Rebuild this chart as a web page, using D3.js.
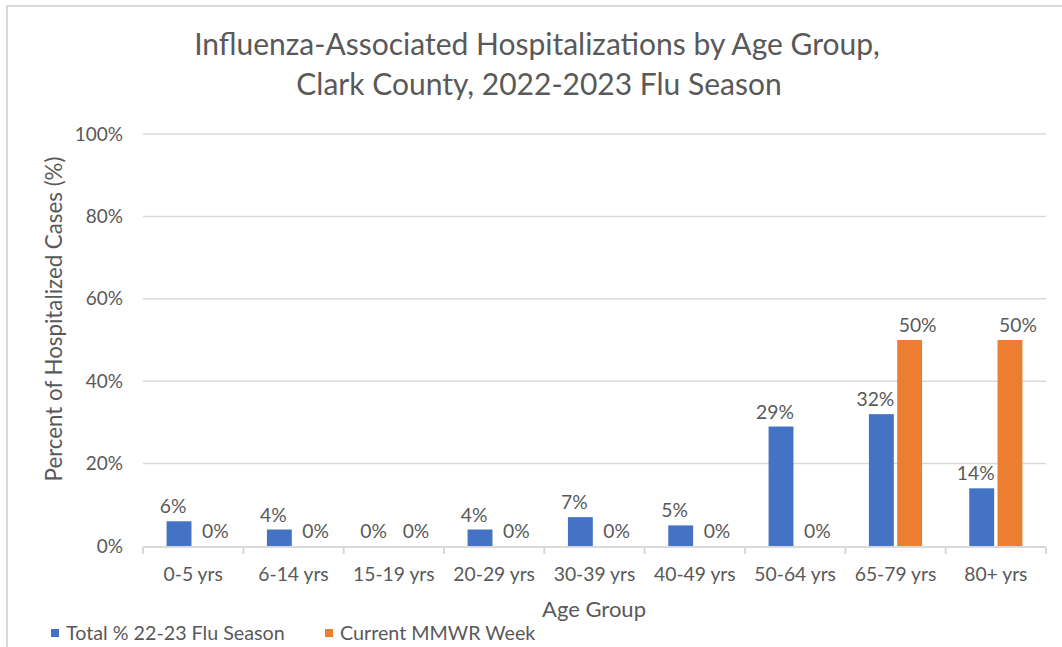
<!DOCTYPE html>
<html>
<head>
<meta charset="utf-8">
<script src="https://cdn.jsdelivr.net/npm/d3@7"></script>
<style>
  body { margin: 0; background: #fff; }
  svg text { font-family: Lato, "Open Sans", sans-serif; fill: #595959; }
</style>
</head>
<body>
<div id="chart"></div>
<script>
// Data
const categories = ["0-5 yrs", "6-14 yrs", "15-19 yrs", "20-29 yrs", "30-39 yrs", "40-49 yrs", "50-64 yrs", "65-79 yrs", "80+ yrs"];
const seasonValues = [6, 4, 0, 4, 7, 5, 29, 32, 14];
const weekValues = [0, 0, 0, 0, 0, 0, 0, 50, 50];
const seriesNames = ["Total % 22-23 Flu Season", "Current MMWR Week"];
const yTicks = [0, 20, 40, 60, 80, 100];
const titleLines = ["Influenza-Associated Hospitalizations by Age Group,", "Clark County, 2022-2023 Flu Season"];

const colors = ["#4472C4", "#ED7D31"];

// Set dimensions and margins
const W = 1062, H = 647;
const margin = { top: 134, right: 16, bottom: 101, left: 143 },
    width = W - margin.left - margin.right,
    height = H - margin.top - margin.bottom;

const svgRoot = d3.select("#chart")
    .append("svg")
    .attr("width", W)
    .attr("height", H);

// chart border (only top and left visible in the reference crop)
svgRoot.append("path")
    .attr("d", `M7,${H} V6 H${W}`)
    .attr("fill", "none")
    .attr("stroke", "#d9d9d9")
    .attr("stroke-width", 2);

// Title
svgRoot.append("text")
    .attr("x", 537)
    .attr("y", 55)
    .attr("text-anchor", "middle")
    .style("font-size", "30px")
    .text(titleLines[0]);
svgRoot.append("text")
    .attr("x", 539)
    .attr("y", 95)
    .attr("text-anchor", "middle")
    .style("font-size", "30px")
    .text(titleLines[1]);

const svg = svgRoot.append("g")
    .attr("transform", `translate(${margin.left},${margin.top})`);

// Scales
const x0 = d3.scaleBand()
    .domain(categories)
    .range([0, width])
    .padding(0);

const x1 = d3.scaleBand()
    .domain([0, 1])
    .range([x0.bandwidth() * 0.235, x0.bandwidth() * 0.765])
    .paddingInner(0.12);

const y = d3.scaleLinear()
    .domain([0, 100])
    .range([height, 0]);

// Gridlines
svg.append("g")
    .selectAll("line")
    .data(yTicks.filter(d => d > 0))
    .enter().append("line")
    .attr("x1", 0)
    .attr("x2", width)
    .attr("y1", d => y(d))
    .attr("y2", d => y(d))
    .attr("stroke", "#d9d9d9")
    .attr("stroke-width", 1.5);

// Y axis labels
const yAxis = svg.append("g")
    .call(d3.axisLeft(y).tickValues(yTicks).tickFormat(d => d + "%").tickSize(0).tickPadding(20));
yAxis.select(".domain").remove();
yAxis.selectAll("text")
    .style("font-size", "19px")
    .attr("fill", "#595959");

// X axis with boundary ticks
const xAxis = svg.append("g")
    .attr("transform", `translate(0,${height + 1})`)
    .call(d3.axisBottom(x0).tickSize(0).tickPadding(20));
xAxis.select(".domain")
    .attr("stroke", "#d9d9d9")
    .attr("stroke-width", 2)
    .attr("d", `M0,0H${width}`);
xAxis.selectAll("text")
    .style("font-size", "19.3px")
    .attr("fill", "#595959");
xAxis.selectAll(".boundary")
    .data(d3.range(categories.length + 1))
    .enter().append("line")
    .attr("class", "boundary")
    .attr("x1", i => i * x0.step())
    .attr("x2", i => i * x0.step())
    .attr("y1", 0)
    .attr("y2", 7)
    .attr("stroke", "#d9d9d9")
    .attr("stroke-width", 2);

// Bars
const rows = categories.map((c, i) => ({ cat: c, values: [seasonValues[i], weekValues[i]] }));
const labelShift = [-6, 8];

const groups = svg.selectAll(".grp")
    .data(rows)
    .enter().append("g")
    .attr("class", "grp")
    .attr("transform", d => `translate(${x0(d.cat)},0)`);

groups.selectAll("rect")
    .data(d => d.values.map((v, k) => ({ k, v })))
    .enter().append("rect")
    .attr("x", d => x1(d.k))
    .attr("y", d => y(d.v))
    .attr("width", x1.bandwidth())
    .attr("height", d => height - y(d.v))
    .attr("fill", d => colors[d.k]);

groups.selectAll(".lbl")
    .data(d => d.values.map((v, k) => ({ k, v })))
    .enter().append("text")
    .attr("class", "lbl")
    .attr("x", d => x1(d.k) + x1.bandwidth() / 2 + labelShift[d.k])
    .attr("y", d => y(d.v) - 8)
    .attr("text-anchor", "middle")
    .style("font-size", "19.3px")
    .text(d => d.v + "%");

// Axis titles
svgRoot.append("text")
    .attr("transform", "rotate(-90)")
    .attr("x", -319)
    .attr("y", 62)
    .attr("text-anchor", "middle")
    .style("font-size", "22.3px")
    .text("Percent of Hospitalized Cases (%)");

svgRoot.append("text")
    .attr("x", 594)
    .attr("y", 617)
    .attr("text-anchor", "middle")
    .style("font-size", "22px")
    .text("Age Group");

// Legend
const legendX = [51, 325];
seriesNames.forEach((name, i) => {
    const lg = svgRoot.append("g")
        .attr("transform", `translate(${legendX[i]},629)`);
    lg.append("rect")
        .attr("width", 8)
        .attr("height", 8)
        .attr("fill", colors[i]);
    lg.append("text")
        .attr("x", 15)
        .attr("y", 11)
        .style("font-size", "19.7px")
        .text(name);
});
</script>
</body>
</html>
